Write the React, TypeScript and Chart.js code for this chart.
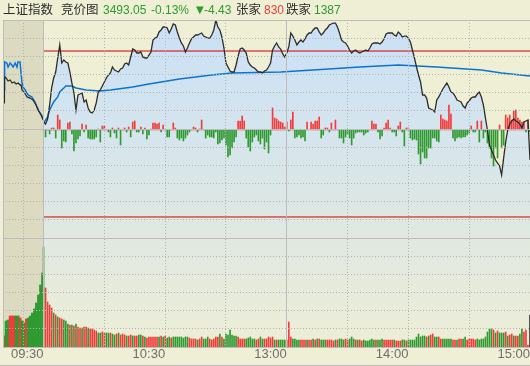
import React, { useEffect, useRef } from 'react';
import { Chart, registerables } from 'chart.js';

Chart.register(...registerables);

// ---------------- header texts ----------------
const indexName = '上证指数';
const viewName = '竞价图';
const lastPrice = '3493.05';
const changePct = '-0.13%';
const changePts = '-4.43';
const upLabel = '张家';
const upCount = '830';
const downLabel = '跌家';
const downCount = '1387';

// ---------------- axes ----------------
const xStart = -20; // pre-market auction zone starts here
const xEnd = 240; // 15:00
const xTicks = [-10, 0, 30, 60, 90, 120, 150, 180, 210, 240];
const xLabels: Record<number, string> = { 0: '09:30', 60: '10:30', 120: '13:00', 180: '14:00', 240: '15:00' };
const xSolid = [0, 120];
const gridRows = [0, 1, 2, 3, 4, 5, 6, 7, 8, 9, 10, 11, 12, 13, 14, 15, 16, 17, 18];
const gridSolidRows = [0, 6, 12, 18];

const priceTop = 3513.4;
const priceBottom = 3465.87;
const refLevels = [3508.89, 3484.77];

// ---------------- minute price (09:30 .. 15:00, 241 points) ----------------
const price = [
  3498.57, 3498.28, 3499.01, 3501.05, 3503.52, 3504.97, 3505.84, 3507.88, 3509.77, 3507.15,
  3507.59, 3507.3, 3507.15, 3505.84, 3504.24, 3502.79, 3500.32, 3502.5, 3502.64, 3502.79,
  3501.48, 3501.77, 3500.61, 3500.03, 3499.88, 3500.32, 3501.34, 3502.93, 3503.23, 3503.81,
  3504.39, 3504.97, 3505.41, 3505.7, 3506.57, 3506.13, 3505.99, 3505.84, 3506.28, 3506.42,
  3507.0, 3507.15, 3506.86, 3508.02, 3509.18, 3509.04, 3508.6, 3508.6, 3508.75, 3508.02,
  3507.88, 3507.88, 3508.31, 3508.75, 3510.49, 3510.78, 3510.93, 3511.66, 3511.95, 3512.38,
  3512.38, 3512.24, 3511.51, 3512.09, 3512.82, 3512.67, 3511.66, 3510.78, 3510.06, 3509.62,
  3508.75, 3509.33, 3510.06, 3510.64, 3510.93, 3511.22, 3511.22, 3511.37, 3511.51, 3511.07,
  3510.93, 3510.78, 3510.78, 3511.22, 3511.95, 3513.4, 3512.38, 3511.95, 3510.93, 3509.33,
  3507.15, 3506.57, 3505.99, 3505.84, 3505.84, 3506.86, 3508.17, 3509.18, 3509.33, 3509.04,
  3508.6, 3507.3, 3506.86, 3506.57, 3506.42, 3506.13, 3505.84, 3505.84, 3505.7, 3505.99,
  3506.13, 3506.57, 3507.15, 3509.04, 3509.62, 3510.06, 3509.48, 3509.18, 3508.46, 3508.02,
  3508.6, 3509.48, 3511.51, 3511.07, 3510.49, 3509.77, 3510.2, 3510.49, 3510.2, 3510.64,
  3511.22, 3511.51, 3511.51, 3511.95, 3512.24, 3512.24, 3511.66, 3511.22, 3511.51, 3511.95,
  3512.24, 3512.67, 3512.82, 3512.96, 3512.96, 3512.38, 3511.51, 3510.49, 3510.2, 3510.06,
  3509.62, 3509.04, 3508.6, 3508.89, 3509.04, 3508.75, 3508.6, 3508.75, 3508.89, 3509.04,
  3508.89, 3509.33, 3509.91, 3510.06, 3510.06, 3510.06, 3509.91, 3510.2, 3510.64, 3511.37,
  3511.51, 3511.51, 3511.51, 3511.22, 3511.07, 3511.66, 3511.37, 3510.93, 3511.07, 3511.07,
  3510.78, 3510.2, 3509.04, 3507.88, 3506.57, 3505.41, 3504.39, 3502.5, 3502.5, 3502.06,
  3500.61, 3500.46, 3500.32, 3500.03, 3501.77, 3502.21, 3502.79, 3503.37, 3503.81, 3504.24,
  3503.66, 3502.93, 3502.79, 3502.35, 3501.77, 3501.63, 3501.48, 3500.9, 3500.61, 3501.34,
  3501.63, 3502.06, 3502.21, 3502.21, 3502.64, 3502.93, 3502.21, 3501.05, 3499.16, 3497.41,
  3495.23, 3494.5, 3493.78, 3493.05, 3492.61, 3492.18, 3490.87, 3493.34, 3495.67, 3497.41,
  3498.28, 3498.72, 3499.01, 3498.72, 3498.57, 3498.28, 3497.7, 3498.57, 3498.72, 3498.87,
  3493.05,
];

// average price line (minute, value)
const avgMinute = [0, 2, 3, 5, 7, 8, 10, 11, 14, 16, 21, 28, 33, 44, 52, 67, 83, 93, 117, 133, 156, 175, 194, 216, 226, 240];
const avgValue = [
  3498.43, 3499.3, 3500.32, 3501.48, 3502.21, 3502.93, 3503.52, 3503.81, 3503.81, 3503.52, 3503.23, 3503.08, 3503.23,
  3503.66, 3504.1, 3504.82, 3505.41, 3505.7, 3505.84, 3506.13, 3506.57, 3506.86, 3506.57, 3506.13, 3505.7, 3505.26,
];

// pre-market auction (09:15 - 09:25), positions on the auction strip
const preBlackT = [-19.5, -19.3, -19.0, -18.5, -17.5, -16.5, -15.5, -14.5, -13.5, -12.5, -11.5, -11.1, -10.6, -9.6, -8.1, -6.7, -5.2, -3.7, -2.7, -1.2, -0.2];
const preBlackV = [
  3501.34, 3504.97, 3505.12, 3504.97, 3504.53, 3504.68, 3504.24, 3504.39, 3504.1, 3504.24, 3503.95, 3503.95, 3503.23,
  3502.93, 3502.21, 3502.06, 3501.77, 3501.05, 3500.32, 3499.59, 3498.87,
];
const preBlueT = [-19.5, -19.2, -18.1, -17.5, -16.5, -15.7, -15.0, -14.0, -13.1, -12.6, -11.6, -11.1, -10.6, -10.1, -9.1, -7.6, -5.7, -4.2, -3.2, -1.7, -0.2];
const preBlueV = [
  3503.23, 3507.3, 3507.15, 3506.57, 3507.15, 3506.86, 3506.57, 3507.15, 3506.57, 3507.3, 3507.3, 3505.7, 3504.24,
  3503.66, 3503.23, 3502.5, 3502.21, 3501.48, 3500.75, 3499.88, 3499.16,
];
const preVolume = [11, 26, 27, 31, 31, 31, 31, 31, 29, 26, 24, 28, 29, 31, 34, 38, 44, 52, 62, 74];
const preVolumeColor = 'rggrrrggrggrgggggggg';

// ---------------- minute volume (241) ----------------
const volume = [
  100, 59, 45, 42, 39, 34, 32, 30, 29, 28,
  27, 26, 23, 22, 22, 21, 23, 20, 19, 19,
  20, 20, 19, 18, 18, 17, 16, 14, 14, 15,
  14, 14, 14, 14, 13, 12, 13, 14, 12, 13,
  12, 11, 11, 12, 11, 11, 11, 12, 12, 11,
  10, 9, 10, 10, 10, 10, 10, 10, 11, 10,
  11, 9, 10, 9, 10, 10, 10, 10, 10, 9,
  10, 10, 9, 8, 8, 8, 7, 8, 10, 8,
  8, 10, 8, 7, 8, 10, 10, 13, 10, 8,
  13, 12, 17, 12, 11, 11, 10, 8, 8, 8,
  8, 9, 10, 8, 8, 7, 8, 10, 8, 8,
  8, 10, 9, 10, 7, 7, 7, 7, 7, 7,
  7, 25, 10, 8, 8, 7, 7, 7, 7, 7,
  7, 7, 7, 8, 7, 8, 8, 7, 7, 7,
  7, 7, 7, 6, 7, 7, 8, 8, 7, 8,
  7, 8, 10, 8, 7, 7, 7, 6, 7, 6,
  6, 7, 8, 7, 7, 7, 7, 8, 7, 7,
  7, 7, 7, 7, 6, 6, 6, 7, 7, 6,
  7, 7, 7, 7, 10, 13, 10, 11, 11, 10,
  11, 12, 13, 10, 10, 10, 8, 8, 8, 8,
  8, 8, 7, 7, 7, 8, 8, 8, 10, 7,
  8, 8, 8, 7, 8, 7, 8, 8, 10, 15,
  18, 18, 17, 14, 16, 14, 14, 14, 15, 11,
  12, 13, 11, 11, 11, 13, 18, 15, 17, 2,
  32,
];
const volumeColor =
  'grrrrgrgrr' + 'gggrgrgrrg' + 'rrgrrrrggr' + 'rggrggrgrr' + 'rgrrgrrggr' + 'grrrrrrgrg' +
  'rggrgggggg' + 'ggrrrrgrrg' + 'ggrrrrrgrg' + 'ggggggrrrr' + 'gggggrrggr' + 'rrrrgrgggg' +
  'rrrggggrrr' + 'grrgrgrggg' + 'rrrrgrgggr' + 'rgggrgrrgg' + 'ggggrgggrr' + 'rrrgrrrggr' +
  'gggggggggr' + 'grrggrrggg' + 'ggrrgrrggr' + 'rrrrgggggg' + 'ggrgrgggrg' + 'rrgrrggrrr' + 'k';

// ---------------- red / green strength bars around the previous close (241) ----------------
const strength = [
  0, -7, 0, -4, 2, 2, -8, 15, 10, -18,
  -11, -12, 7, 8, -4, -21, -13, -9, -6, 6,
  -2, 5, -8, -9, -9, -9, -7, 1, -12, 4,
  4, 0, -2, -7, 2, -3, -8, 2, -15, 0,
  2, -2, 3, -7, 8, 9, -2, -2, 3, -4,
  2, -9, -5, 1, 7, 7, 6, 7, -2, 5,
  0, -7, -7, 0, 7, 2, -8, -10, -8, -11,
  -8, -5, -2, 0, 3, 2, -2, 1, 10, 0,
  -8, -5, -7, -7, -8, -2, -14, -13, -10, -8,
  -15, -27, -25, -18, -12, -7, 9, 9, 14, 9,
  -8, -17, -21, -12, -7, -5, -11, -14, -8, -19,
  -12, -23, -5, 22, 12, 11, 9, 8, 7, 3,
  8, -1, 10, 18, -8, -7, -5, -8, -7, -11,
  8, 0, 8, 6, 9, 9, 13, -8, -5, 2,
  2, -2, 7, 0, 10, 0, -8, -8, -13, -7,
  -4, -8, -15, -8, -3, -2, -2, -2, -5, -3,
  -2, 0, 9, 6, 6, -2, -9, -6, 2, 7,
  10, 2, -2, -2, -6, 4, 8, -2, -16, 2,
  2, -8, -10, -9, -10, -24, -34, -22, -28, -28,
  -18, -18, -8, -8, -11, -12, 15, 11, 10, 9,
  25, 16, -8, -11, -8, -7, -8, -7, -7, -5,
  -3, 4, -2, -2, 9, -12, 9, -8, -2, -13,
  -18, -28, -36, -18, -28, 5, -18, -15, 15, 12,
  15, 10, 19, 20, 12, 10, 8, 8, -2, 10,
  -2,
];

// ---------------- styles ----------------
const BG = '#efefd6';
const SHADE = '#dcdbc2';
const RED = '#f23c3c';
const GREEN = '#2f9a2f';
const DARK = '#2c2c2c';
const DOT = '#b3b3b3';
const SOLID = '#bcbcbc';
const NONE = 'rgba(0,0,0,0)';
const colorOf = (ch: string) => (ch === 'r' ? RED : ch === 'g' ? GREEN : '#333333');

export default function App() {
  const ref = useRef<HTMLCanvasElement>(null);

  useEffect(() => {
    const canvas = ref.current;
    if (!canvas) return;

    const shade = {
      id: 'auctionShade',
      beforeDatasetsDraw(chart: any) {
        const { ctx, chartArea, scales } = chart;
        const x0 = scales.x.getPixelForValue(xStart);
        const x1 = scales.x.getPixelForValue(0);
        ctx.save();
        ctx.fillStyle = SHADE;
        ctx.fillRect(x0, chartArea.top, x1 - x0, chartArea.bottom - chartArea.top);
        ctx.restore();
      },
    };

    const pricePts = price.map((v, i) => ({ x: i, y: v }));
    const lineBase = { pointRadius: 0, tension: 0, fill: false, yAxisID: 'yp', xAxisID: 'x' };
    const barBase = { grouped: false, borderWidth: 0, xAxisID: 'x' };

    const chart = new Chart(canvas, {
      type: 'line',
      data: {
        datasets: [
          {
            ...lineBase,
            data: pricePts,
            borderWidth: 0,
            fill: 'start',
            order: 10,
            backgroundColor: (c: any) => {
              const a = c.chart.chartArea;
              if (!a) return NONE;
              const g = c.chart.ctx.createLinearGradient(0, a.top, 0, a.bottom);
              g.addColorStop(0, '#cae0f6');
              g.addColorStop(0.34, '#d5e5ee');
              g.addColorStop(0.67, '#e0e8e0');
              g.addColorStop(1, '#edeed6');
              return g;
            },
          } as any,
          {
            type: 'bar',
            ...barBase,
            yAxisID: 'yb',
            order: 5,
            barThickness: 1,
            data: strength.map((v, i) => ({ x: i, y: v })),
            backgroundColor: strength.map((v) => (v >= 0 ? RED : GREEN)),
          } as any,
          {
            type: 'bar',
            ...barBase,
            yAxisID: 'yv',
            order: 5,
            barThickness: 1,
            data: volume.map((v, i) => ({ x: i, y: v })),
            backgroundColor: volume.map((_, i) => colorOf(volumeColor[i])),
          } as any,
          {
            type: 'bar',
            ...barBase,
            yAxisID: 'yv',
            order: 5,
            barThickness: 2.1,
            data: preVolume.map((v, i) => ({ x: xStart + 0.5 + i, y: v })),
            backgroundColor: preVolume.map((_, i) => colorOf(preVolumeColor[i])),
          } as any,
          ...refLevels.map((lv) => ({
            ...lineBase,
            order: 4,
            borderColor: '#d00000',
            borderWidth: 1,
            data: [
              { x: 0, y: lv },
              { x: xEnd, y: lv },
            ],
          })),
          {
            ...lineBase,
            order: 3,
            borderColor: '#0a76d6',
            borderWidth: 1.5,
            data: preBlueT.map((t, i) => ({ x: t, y: preBlueV[i] })),
          },
          {
            ...lineBase,
            order: 2,
            borderColor: DARK,
            borderWidth: 1.3,
            data: preBlackT.map((t, i) => ({ x: t, y: preBlackV[i] })),
          },
          {
            ...lineBase,
            order: 2,
            borderColor: '#0a74d2',
            borderWidth: 1.5,
            data: avgMinute.map((t, i) => ({ x: t, y: avgValue[i] })),
          },
          {
            ...lineBase,
            order: 1,
            borderColor: DARK,
            borderWidth: 1.3,
            data: pricePts,
          },
        ] as any,
      },
      options: {
        animation: false,
        responsive: false,
        maintainAspectRatio: false,
        events: [],
        layout: { padding: { left: 3, right: 0, top: 20, bottom: 0 }, autoPadding: false },
        plugins: { legend: { display: false }, tooltip: { enabled: false } },
        scales: {
          x: {
            type: 'linear',
            position: 'bottom',
            min: xStart,
            max: xEnd,
            offset: false,
            afterBuildTicks: (s: any) => {
              s.ticks = xTicks.map((v) => ({ value: v }));
            },
            afterFit: (s: any) => {
              s.height = 19;
            },
            ticks: {
              autoSkip: false,
              maxRotation: 0,
              minRotation: 0,
              align: 'end',
              padding: 0,
              color: '#6e6e6e',
              font: { family: '"Liberation Sans", Arial, sans-serif', size: 13 },
              callback: (v: any) => xLabels[v as number] ?? '',
            },
            grid: {
              offset: false,
              color: (c: any) => (c.tick && xSolid.includes(c.tick.value) ? NONE : DOT),
              lineWidth: 1,
              drawTicks: false,
              z: 1,
            },
            border: { display: false, dash: [1, 2] },
          },
          xs: {
            type: 'linear',
            position: 'bottom',
            min: xStart,
            max: xEnd,
            offset: false,
            afterBuildTicks: (s: any) => {
              s.ticks = xSolid.map((v) => ({ value: v }));
            },
            afterFit: (s: any) => {
              s.height = 0;
            },
            ticks: { display: false },
            grid: { offset: false, color: SOLID, lineWidth: 1, drawTicks: false, z: 1 },
            border: { display: false },
          },
          yg: {
            type: 'linear',
            position: 'left',
            min: 0,
            max: 18,
            afterBuildTicks: (s: any) => {
              s.ticks = gridRows.map((v) => ({ value: v }));
            },
            afterFit: (s: any) => {
              s.width = 0;
            },
            ticks: { display: false },
            grid: {
              color: (c: any) => (c.tick && gridSolidRows.includes(c.tick.value) ? NONE : DOT),
              lineWidth: 1,
              drawTicks: false,
              z: 1,
            },
            border: { display: false, dash: [1, 2] },
          },
          ys: {
            type: 'linear',
            position: 'left',
            min: 0,
            max: 18,
            afterBuildTicks: (s: any) => {
              s.ticks = gridSolidRows.map((v) => ({ value: v }));
            },
            afterFit: (s: any) => {
              s.width = 0;
            },
            ticks: { display: false },
            grid: { color: SOLID, lineWidth: 1, drawTicks: false, z: 1 },
            border: { display: true, color: SOLID, width: 1, z: 1 },
          },
          yp: { type: 'linear', display: false, min: priceBottom, max: priceTop },
          yb: { type: 'linear', display: false, min: -217, max: 110 },
          yv: { type: 'linear', display: false, min: 0, max: 327 },
        } as any,
      },
      plugins: [shade],
    });

    return () => chart.destroy();
  }, []);

  const cjk = '"Noto Sans CJK SC", "Noto Sans CJK TC", sans-serif';
  const num = '"Liberation Sans", Arial, sans-serif';
  const t = (left: number, text: string, color: string, font: string, size: number, top: number) => (
    <span
      style={{
        position: 'absolute',
        left,
        top,
        color,
        fontFamily: font,
        fontSize: size,
        lineHeight: '14px',
        whiteSpace: 'nowrap',
      }}
    >
      {text}
    </span>
  );

  return (
    <div
      style={{
        position: 'fixed',
        left: 0,
        top: 0,
        width: 530,
        height: 366,
        background: BG,
        overflow: 'hidden',
      }}
    >
      <canvas ref={ref} width={530} height={366} style={{ position: 'absolute', left: 0, top: 0, width: 530, height: 366 }} />
      {t(3, indexName, DARK, cjk, 12.5, 2)}
      {t(61, viewName, DARK, cjk, 12.5, 2)}
      {t(103, lastPrice, GREEN, num, 12, 3)}
      {t(151, changePct, GREEN, num, 12, 3)}
      {t(196, '▼', GREEN, '"DejaVu Sans", sans-serif', 10, 3)}
      {t(204, changePts, GREEN, num, 12, 3)}
      {t(236, upLabel, DARK, cjk, 12.5, 2)}
      {t(264, upCount, RED, num, 12, 3)}
      {t(286, downLabel, DARK, cjk, 12.5, 2)}
      {t(314, downCount, GREEN, num, 12, 3)}
      <div style={{ position: 'absolute', left: 0, top: 365, width: 530, height: 1, background: SOLID }} />
    </div>
  );
}
